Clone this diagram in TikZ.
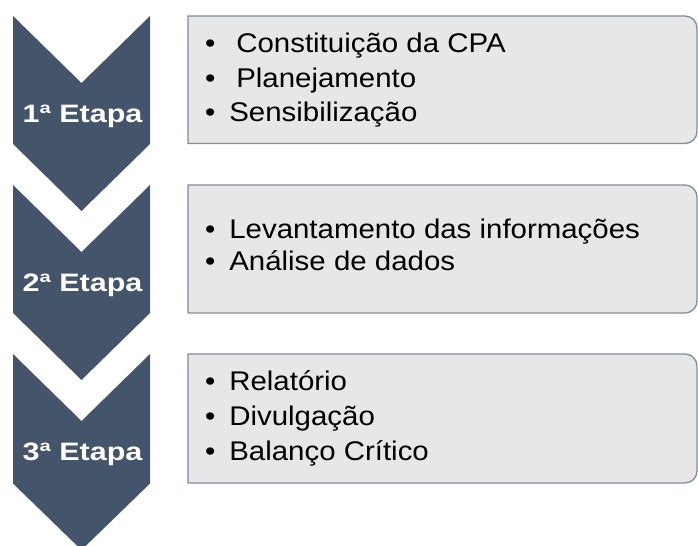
\documentclass[tikz,border=0pt]{standalone}
\usepackage{fontspec}
\setmainfont{Liberation Sans}[FakeStretch=1.09]
\newfontfamily\etapafont{Liberation Sans}[FakeStretch=1.21]
\usepackage{tikz}

\definecolor{chevfill}{RGB}{68,84,106}
\definecolor{boxfill}{RGB}{231,231,231}
\definecolor{boxline}{RGB}{128,140,160}

\newcommand{\bul}{\makebox[18.2pt][l]{•}}

\tikzset{
  chevron/.style={fill=chevfill, draw=none},
  caixa/.style={fill=boxfill, draw=boxline, line width=1pt},
  etapa/.style={anchor=base, inner sep=0pt, text=white, font=\etapafont\bfseries\fontsize{18.9}{22}\selectfont},
  item/.style={anchor=base west, inner sep=0pt, font=\fontsize{20.25}{24}\selectfont}
}

\begin{document}
\begin{tikzpicture}[x=0.75pt, y=-0.75pt]
        \useasboundingbox (0,0) rectangle (698,545);
        % chevrons
        \fill [chevron] (13,16) -- (81.5,83) -- (150,16) -- (150,144) -- (81.5,211) -- (13,144) -- cycle;
        \fill [chevron] (13,185) -- (81.5,252) -- (150,185) -- (150,313) -- (81.5,380) -- (13,313) -- cycle;
        \fill [chevron] (13,354) -- (81.5,421) -- (150,354) -- (150,483.5) -- (81.5,550) -- (13,483.5) -- cycle;
        \node [etapa] (etapa1) at (82.5,122.3) {1ª Etapa};
        \node [etapa] (etapa2) at (82.5,291.5) {2ª Etapa};
        \node [etapa] (etapa3) at (82.5,460.5) {3ª Etapa};
        % boxes
        \draw [caixa] (188,16) [rounded corners=9pt] -- (697,16) -- (697,143.5) [sharp corners] -- (188,143.5) -- cycle;
        \draw [caixa] (188,185) [rounded corners=9pt] -- (697,185) -- (697,313) [sharp corners] -- (188,313) -- cycle;
        \draw [caixa] (188,354) [rounded corners=9pt] -- (697,354) -- (697,483) [sharp corners] -- (188,483) -- cycle;
        % items
        \node [item] (cpa) at (204.8,52.7) {\bul\hspace{5.25pt}Constituição da CPA};
        \node [item] (plan) at (204.8,87.3) {\bul\hspace{5.25pt}Planejamento};
        \node [item] (sens) at (204.8,121.7) {\bul Sensibilização};
        \node [item] (lev) at (204.8,238.7) {\bul Levantamento das informações};
        \node [item] (anal) at (204.8,270.5) {\bul Análise de dados};
        \node [item] (rel) at (204.8,390.7) {\bul Relatório};
        \node [item] (div) at (204.8,425) {\bul Divulgação};
        \node [item] (bal) at (204.8,460.7) {\bul Balanço Crítico};
    \end{tikzpicture}
\end{document}
